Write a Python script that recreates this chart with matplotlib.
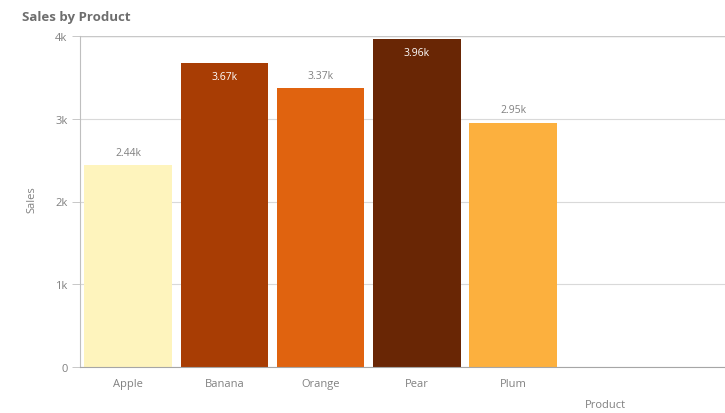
import matplotlib
matplotlib.use("Agg")
import matplotlib.pyplot as plt
from matplotlib.ticker import FixedLocator

products = ["Apple", "Banana", "Orange", "Pear", "Plum"]
sales = [2440, 3670, 3370, 3960, 2950]
value_labels = ["2.44k", "3.67k", "3.37k", "3.96k", "2.95k"]
colors = ["#FEF4BD", "#A83D04", "#E0630F", "#692605", "#FCB03E"]
label_inside = [False, True, False, True, False]
yticks = [0, 1000, 2000, 3000, 4000]
ytick_labels = ["0", "1k", "2k", "3k", "4k"]

plt.rcParams["font.family"] = ["Open Sans", "DejaVu Sans"]

fig = plt.figure(figsize=(7.25, 4.14), dpi=100)
ax = fig.add_axes([80 / 725, 46 / 414, 645 / 725, 331 / 414])

x = list(range(len(products)))
ax.bar(x, sales, width=0.91, color=colors, zorder=2)

for xi, v, lab, inside in zip(x, sales, value_labels, label_inside):
    if inside:
        ax.text(xi, v - 90, lab, ha="center", va="top", fontsize=7.5,
                color="#FFFFFF", zorder=3)
    else:
        ax.text(xi, v + 90, lab, ha="center", va="bottom", fontsize=7.5,
                color="#808080", zorder=3)

ax.set_xlim(-0.5, 6.2)
ax.set_ylim(0, 4000)
ax.yaxis.set_major_locator(FixedLocator(yticks))
ax.set_yticklabels(ytick_labels)
ax.set_xticks(x)
ax.set_xticklabels(products)

ax.grid(axis="y", color="#D9D9D9", linewidth=0.8, zorder=0)
ax.set_axisbelow(True)

for s in ["top", "right"]:
    ax.spines[s].set_visible(False)
ax.spines["left"].set_color("#BFBFBF")
ax.spines["left"].set_linewidth(0.8)
ax.spines["bottom"].set_color("#A6A6A6")
ax.spines["bottom"].set_linewidth(0.8)
ax.axhline(4000, color="#C8C8C8", linewidth=1.0, zorder=1)

ax.tick_params(axis="y", length=6, width=0.6, color="#BFBFBF",
               labelsize=8, labelcolor="#808080", pad=3)
ax.tick_params(axis="x", length=0, labelsize=8, labelcolor="#808080", pad=8)

fig.text(32 / 725, 1 - 200 / 414, "Sales", rotation=90, ha="center",
         va="center", fontsize=8, color="#808080")
fig.text(605 / 725, 1 - 406 / 414, "Product", ha="center", va="center",
         fontsize=8, color="#808080")
fig.text(22 / 725, 1 - 17 / 414, "Sales by Product", ha="left", va="center",
         fontsize=9.5, fontweight="bold", color="#6E6E6E")

fig.savefig("out.png", dpi=100)
